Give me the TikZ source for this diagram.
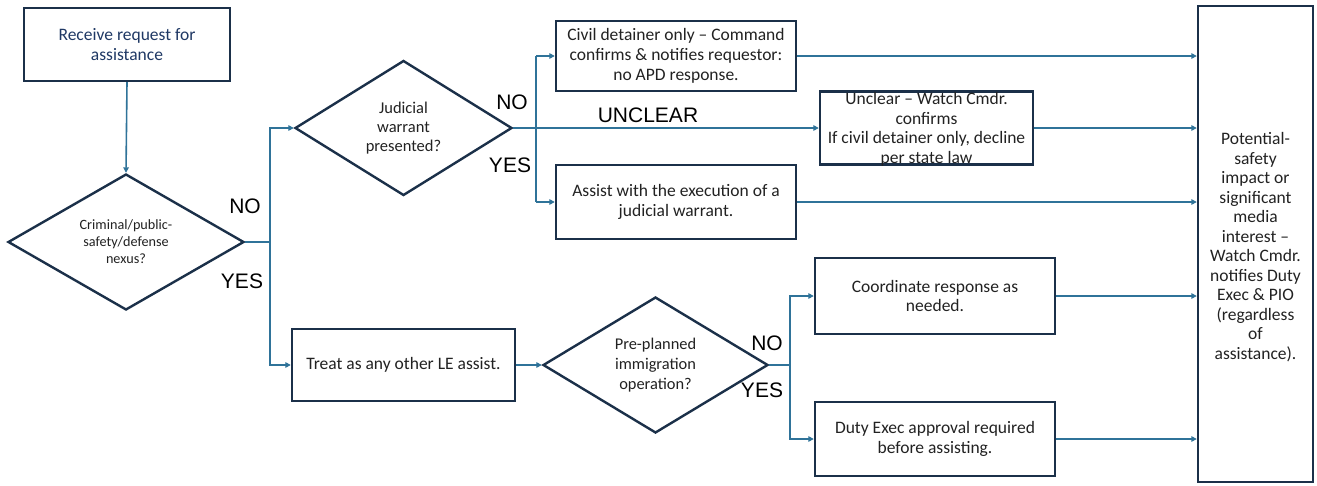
\documentclass[tikz,border=0pt]{standalone}
\usepackage{fontspec}
\setmainfont{Carlito}
\newfontfamily\arialf{Liberation Sans}
\usetikzlibrary{arrows.meta,shapes.geometric}
\definecolor{navy}{HTML}{1B3049}
\definecolor{conn}{HTML}{2F7399}
\definecolor{txt}{HTML}{222222}
\definecolor{txtblue}{HTML}{1F3864}
\begin{document}
\begin{tikzpicture}[x=1pt,y=-1pt,
  box/.style={draw=navy, line width=2.4pt, align=center, text=txt, inner sep=0pt,
    font=\fontsize{17.5}{19.7}\selectfont},
  dia/.style={draw=navy, line width=2.4pt, shape=diamond, align=center, text=txt, inner sep=0pt},
  conn/.style={draw=conn, line width=1.6pt},
  arr/.style={conn, -{Triangle[length=5.5pt,width=5.5pt]}},
  lab/.style={font=\arialf\fontsize{21}{21}\selectfont, text=black, inner sep=0pt}]
\useasboundingbox (0,0) rectangle (1317,485);
\fill[white] (0,0) rectangle (1317,485);

% nodes
\node[box, minimum width=206, minimum height=73, text=txtblue] (recv) at (127,44.5) {Receive request for\\assistance};
\node[dia, minimum width=236, minimum height=136, shape aspect=1.74,
  font=\fontsize{14.2}{17}\selectfont] (d1) at (126,242) {Criminal/public-\\safety/defense\\nexus?};
\node[dia, minimum width=217, minimum height=135, shape aspect=1.6,
  font=\fontsize{16.5}{19}\selectfont] (d2) at (403.5,128) {Judicial\\warrant\\presented?};
\node[box, minimum width=240, minimum height=70] (civil) at (676,56) {Civil detainer only -- Command\\confirms \& notifies requestor:\\no APD response.};
\node[box, minimum width=213, minimum height=73] (unclear) at (926.5,128) {};
\node[align=center, text=txt, inner sep=0pt, font=\fontsize{17.5}{19.5}\selectfont] (unclt) at (926.5,129.5) {Unclear -- Watch Cmdr.\\confirms\\If civil detainer only, decline\\per state law};
\node[box, minimum width=240, minimum height=74] (assist) at (676,202) {Assist with the execution of a\\judicial warrant.};
\node[box, minimum width=115, minimum height=476] (right) at (1255.5,244) {};
\node[align=center, text=txt, inner sep=0pt, font=\fontsize{17.5}{19.5}\selectfont] (rightt) at (1255.5,247) {Potential-\\safety\\impact or\\significant\\media\\interest --\\Watch Cmdr.\\notifies Duty\\Exec \& PIO\\(regardless\\of\\assistance).};
\node[box, minimum width=223, minimum height=72] (treat) at (403.5,365) {Treat as any other LE assist.};
\node[dia, minimum width=225, minimum height=136, shape aspect=1.65,
  font=\fontsize{16.4}{20}\selectfont] (d3) at (655.5,365) {Pre-planned\\immigration\\operation?};
\node[box, minimum width=240, minimum height=76] (coord) at (935,296) {Coordinate response as\\needed.};
\node[box, minimum width=240, minimum height=74] (duty) at (935,439) {Duty Exec approval required\\before assisting.};

% junctions
\coordinate (j1) at (270,242);
\coordinate (j2) at (536,128);
\coordinate (j3) at (790,365);

% connectors
\draw[arr] (recv.south) -- (d1.north);
\draw[conn] (d1.east) -- (j1);
\draw[arr] (j1) |- (d2.west);
\draw[arr] (j1) |- (treat.west);
\draw[arr] (d2.east) -- (unclear.west);
\coordinate (j2t) at (j2 |- civil.west);
\coordinate (j2b) at (j2 |- assist.west);
\draw[conn] (j2t) -- (j2b);
\draw[arr] (j2t) -- (civil.west);
\draw[arr] (j2b) -- (assist.west);
\draw[arr] (treat.east) -- (d3.west);
\draw[conn] (d3.east) -- (j3);
\draw[arr] (j3) |- (coord.west);
\draw[arr] (j3) |- (duty.west);
\draw[arr] (civil.east) -- (civil.east -| right.west);
\draw[arr] (unclear.east) -- (unclear.east -| right.west);
\draw[arr] (assist.east) -- (assist.east -| right.west);
\draw[arr] (coord.east) -- (coord.east -| right.west);
\draw[arr] (duty.east) -- (duty.east -| right.west);

% labels
\node[lab] (no1) at (245,206) {NO};
\node[lab] (yes1) at (242,281) {YES};
\node[lab] (no2) at (512,102) {NO};
\node[lab] (yes2) at (510,165) {YES};
\node[lab] (unc) at (648,115) {UNCLEAR};
\node[lab] (no3) at (767,343) {NO};
\node[lab] (yes3) at (762,390) {YES};
\end{tikzpicture}
\end{document}
